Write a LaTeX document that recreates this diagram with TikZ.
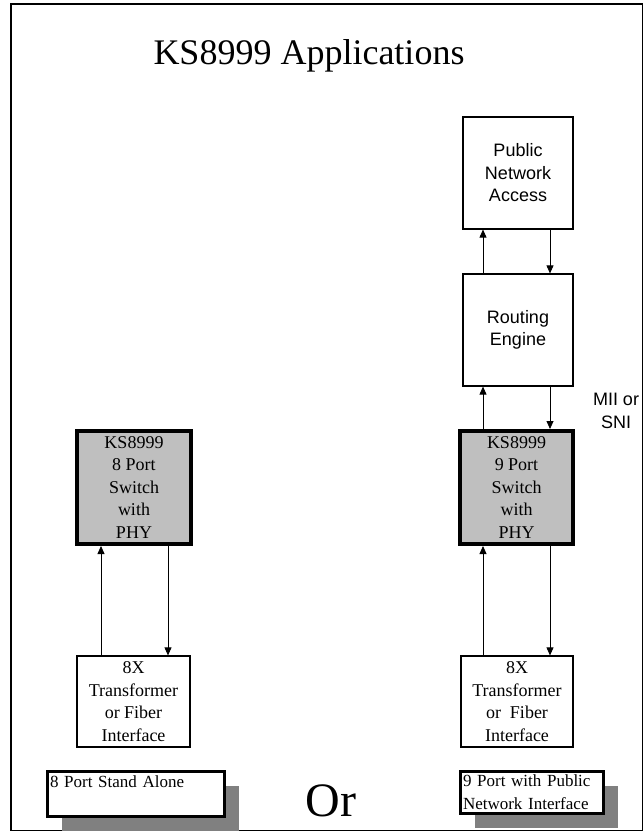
\documentclass[tikz,border=0pt]{standalone}
\usepackage{fontspec}
\setmainfont{Liberation Serif}
\setsansfont{Liberation Sans}
\usetikzlibrary{arrows.meta,shadows}

\begin{document}
\begin{tikzpicture}[x=1pt,y=-1pt,>={Triangle[length=8pt,width=7pt]},
	box/.style={draw,line width=1.2pt,inner sep=0pt,align=center},
	sans/.style={box,font=\sffamily\fontsize{18}{22.5}\selectfont},
	serif/.style={box,font=\fontsize{18}{22.5}\selectfont},
	chip/.style={serif,line width=4pt,fill=black!25},
	tag/.style={draw,line width=3pt,fill=white,anchor=north west,inner xsep=3pt,inner ysep=1pt,
		align=left,font=\fontsize{17}{23}\selectfont,
		drop shadow={shadow xshift=15pt,shadow yshift=-15pt,fill=black!50,opacity=1}},
	link/.style={->,line width=0.8pt}]
	\useasboundingbox (0,0) rectangle (644,832);
	\draw[line width=1.5pt] (11,4) rectangle (642.5,830.5);

	\node[anchor=base,font=\fontsize{36}{40}\selectfont] (title) at (309,65) {KS8999 Applications};

	\node[sans,minimum width=110pt,minimum height=112pt] (pna) at (518,173) {Public\\Network\\Access};
	\node[sans,minimum width=110pt,minimum height=112pt] (re) at (518,330) {Routing\\Engine};
	\node[font=\sffamily\fontsize{18}{22.5}\selectfont,align=center] (mii) at (616,411) {MII or\\SNI};

	\node[chip,minimum width=114pt,minimum height=113pt] (ks8) at (134,487.5) {KS8999\\8 Port\\Switch\\with\\PHY};
	\node[chip,minimum width=113pt,minimum height=113pt] (ks9) at (516.5,487.5) {KS8999\\9 Port\\Switch\\with\\PHY};

	\node[serif,minimum width=113pt,minimum height=91pt] (tr8) at (133.5,701.5) {8X\\Transformer\\or Fiber\\Interface};
	\node[serif,minimum width=112pt,minimum height=91pt] (tr9) at (517,701.5) {8X\\Transformer\\or~ Fiber\\Interface};

	\node[tag,text width=171pt,minimum height=45pt] (alone) at (45.5,769.5) {8 Port Stand Alone\\ \mbox{}};
	\node[tag,text width=137pt,minimum height=42pt] (public) at (458.5,769.5) {9 Port with Public\\Network Interface};
	\node[anchor=base,font=\fontsize{48}{50}\selectfont] (or) at (331,816) {Or};

	\coordinate (u8) at (101,0);	\coordinate (d8) at (168,0);
	\coordinate (u9) at (483,0);	\coordinate (d9) at (550,0);

	\draw[link] (re.north -| u9) -- (pna.south -| u9);
	\draw[link] (pna.south -| d9) -- (re.north -| d9);
	\draw[link] (ks9.north -| u9) -- (re.south -| u9);
	\draw[link] (re.south -| d9) -- (ks9.north -| d9);

	\draw[link] (tr8.north -| u8) -- (ks8.south -| u8);
	\draw[link] (ks8.south -| d8) -- (tr8.north -| d8);
	\draw[link] (tr9.north -| u9) -- (ks9.south -| u9);
	\draw[link] (ks9.south -| d9) -- (tr9.north -| d9);
\end{tikzpicture}
\end{document}
